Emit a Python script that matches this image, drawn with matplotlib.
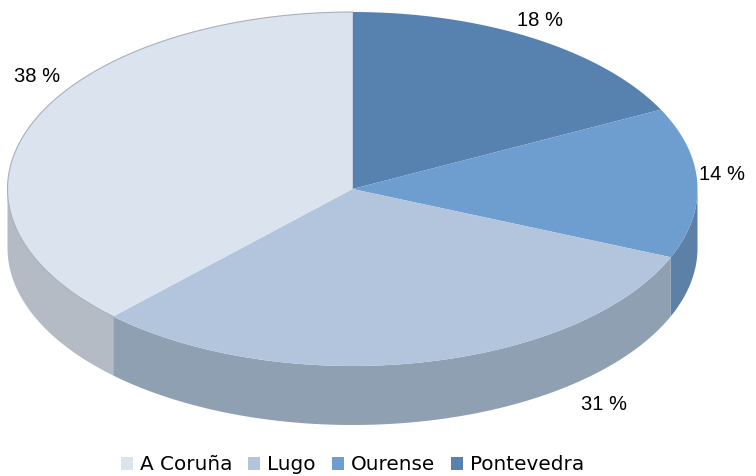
import numpy as np
import matplotlib.pyplot as plt
from matplotlib.patches import Polygon, Patch

regions = ["Pontevedra", "Ourense", "Lugo", "A Coruña"]
shares = [17.6, 13.7, 30.9, 37.8]
top_colors = ["#5781ae", "#6e9ecf", "#b3c5dc", "#dbe3ee"]
side_colors = ["#4b6f96", "#5d80a8", "#8fa0b3", "#b4bbc4"]
legend_order = ["A Coruña", "Lugo", "Ourense", "Pontevedra"]

# label positions in pixels (layout only)
label_pos = [(540, 20), (722, 175), (604, 404), (37, 76)]

# pie geometry in pixels
cx, cy, rx, ry, depth = 352.5, 189.0, 345.0, 177.0, 59.0


def rim(theta, dy=0.0):
    # theta in degrees, clockwise from 12 o'clock
    t = np.radians(theta)
    return cx + rx * np.sin(t), cy - ry * np.cos(t) + dy


fig = plt.figure(figsize=(7.56, 4.76), dpi=100)
ax = fig.add_axes([0, 0, 1, 1])
ax.set_xlim(0, 756)
ax.set_ylim(476, 0)
ax.axis("off")

bounds = np.concatenate([[0], np.cumsum(shares)]) / np.sum(shares) * 360.0

# side walls: only the front half (90..270 deg) is visible
for i in range(len(shares)):
    a0 = max(bounds[i], 90.0)
    a1 = min(bounds[i + 1], 270.0)
    if a1 <= a0:
        continue
    th = np.linspace(a0, a1, 200)
    xt, yt = rim(th)
    xb, yb = rim(th[::-1], depth)
    pts = np.column_stack([np.concatenate([xt, xb]), np.concatenate([yt, yb])])
    ax.add_patch(Polygon(pts, closed=True, facecolor=side_colors[i],
                         edgecolor="none", zorder=1))

# top faces
for i in range(len(shares)):
    th = np.linspace(bounds[i], bounds[i + 1], 300)
    xt, yt = rim(th)
    pts = np.column_stack([np.concatenate([[cx], xt]), np.concatenate([[cy], yt])])
    ax.add_patch(Polygon(pts, closed=True, facecolor=top_colors[i],
                         edgecolor="none", zorder=2))

# faint outline on the light slice rim
th = np.linspace(bounds[3], bounds[4], 200)
xt, yt = rim(th)
ax.plot(xt, yt, color="#a7b0bd", lw=0.8, zorder=3)

# percentage labels
for (lx, ly), s in zip(label_pos, shares):
    ax.text(lx, ly, f"{round(s):.0f} %", ha="center", va="center",
            fontsize=14.5, family="Liberation Sans", color="#000000", zorder=4)

# legend
handles = [Patch(facecolor=top_colors[regions.index(n)], edgecolor="none", label=n)
           for n in legend_order]
ax.legend(handles=handles, loc="center", bbox_to_anchor=(352.5 / 756, 1 - 465 / 476),
          ncol=4, frameon=False, fontsize=14.4, handlelength=0.6, handleheight=0.6,
          handletextpad=0.35, columnspacing=0.8, borderpad=0, borderaxespad=0,
          prop={"family": "DejaVu Sans", "size": 14.4})

fig.savefig("out.png", dpi=100)
